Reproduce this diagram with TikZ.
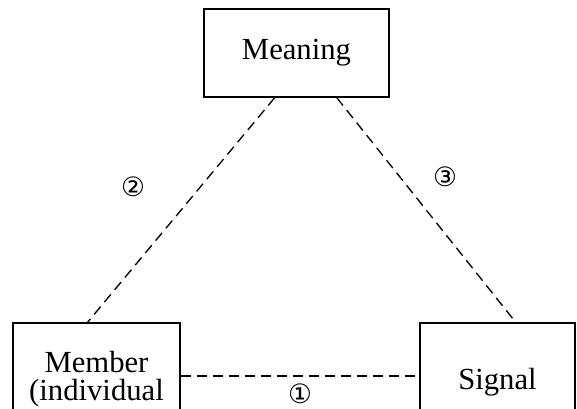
\documentclass[tikz,border=0pt]{standalone}
\usepackage{fontspec}
\setmainfont{Liberation Serif}
\newfontfamily\circfont{DejaVu Sans}
\tikzset{
	concept/.style={draw, line width=1pt, inner sep=0pt, align=center, font=\fontsize{23}{21.5}\selectfont},
	link/.style={line width=1pt, dash pattern=on 7.5pt off 4.5pt},
	mark num/.style={inner sep=0pt, text depth=0pt, text height=9pt, font=\circfont\fontsize{20}{22}\selectfont}
}
\begin{document}
\begin{tikzpicture}[x=0.75pt, y=-0.75pt]
			\useasboundingbox (0,0) rectangle (577,408);
			\node (meaning) [concept, minimum width=185*0.75pt, minimum height=88*0.75pt] at (296.5,53) {Meaning};
			\node (member) [concept, minimum width=167*0.75pt, minimum height=112*0.75pt] at (96.5,379) {Member\\(individual};
			\node (signal) [concept, minimum width=155*0.75pt, minimum height=118*0.75pt] at (497.5,382) {Signal};
			\draw [link] (meaning.244) -- (member.99);
			\draw [link] (meaning.312.6) -- (signal.73.5);
			\draw [link] (member.2) -- (member.2 -| signal.west);
			\node (one) [mark num] at (300,397) {①};
			\node (two) [mark num] at (133,190) {②};
			\node (three) [mark num] at (445,180) {③};
		\end{tikzpicture}
\end{document}
